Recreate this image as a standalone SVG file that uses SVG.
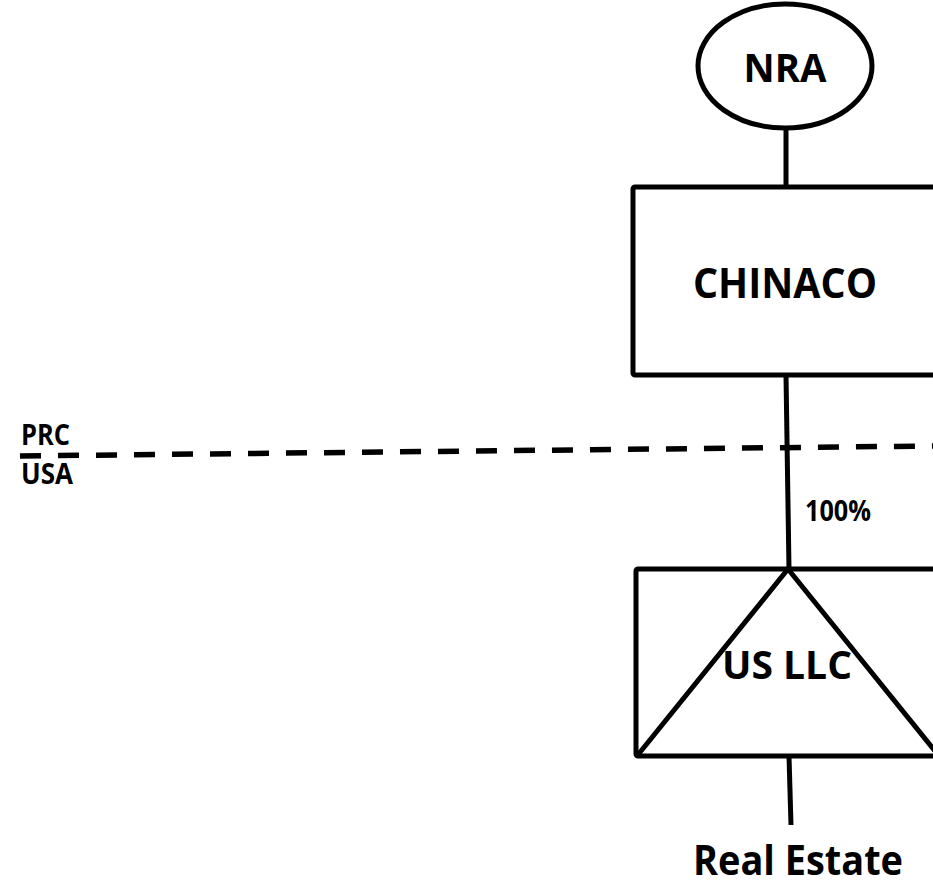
<svg xmlns="http://www.w3.org/2000/svg" width="933" height="883" viewBox="0 0 933 883">
<style>
.s{fill:none;stroke:#000;stroke-width:5;stroke-linejoin:round;stroke-linecap:butt}
.t{font-family:"Open Sans","Liberation Sans",Arial,sans-serif;font-weight:bold;fill:#000}
</style>
<rect width="933" height="883" fill="#fff"/>
<g id="border">
<path d="M20,456 L933,446" fill="none" stroke="#000" stroke-width="5.5" stroke-dasharray="21,17"/>
<text class="t" x="21" y="445" font-size="29" textLength="49" lengthAdjust="spacingAndGlyphs">PRC</text>
<text class="t" x="21" y="484" font-size="29" textLength="52" lengthAdjust="spacingAndGlyphs">USA</text>
</g>
<g id="connectors">
<line class="s" x1="786" y1="128" x2="786" y2="187"/>
<line class="s" x1="786" y1="375" x2="789" y2="569"/>
<line class="s" x1="789" y1="756" x2="791" y2="825"/>
<text class="t" x="805" y="521" font-size="29" textLength="66" lengthAdjust="spacingAndGlyphs">100%</text>
</g>
<g id="nra">
<ellipse class="s" cx="785" cy="66" rx="87" ry="62"/>
<text class="t" x="785" y="82" font-size="40" text-anchor="middle" textLength="83" lengthAdjust="spacingAndGlyphs">NRA</text>
</g>
<g id="chinaco">
<rect class="s" x="633" y="187" width="320" height="188" rx="2"/>
<text class="t" x="785" y="298" font-size="41" text-anchor="middle" textLength="184" lengthAdjust="spacingAndGlyphs">CHINACO</text>
</g>
<g id="usllc">
<rect class="s" x="636" y="569" width="320" height="187" rx="2"/>
<path class="s" d="M637,756 L788,569 L939,756"/>
<text class="t" x="787" y="679" font-size="40" text-anchor="middle" textLength="130" lengthAdjust="spacingAndGlyphs">US LLC</text>
</g>
<g id="realestate">
<text class="t" x="798" y="875" font-size="41" text-anchor="middle" textLength="210" lengthAdjust="spacingAndGlyphs">Real Estate</text>
</g>
</svg>
